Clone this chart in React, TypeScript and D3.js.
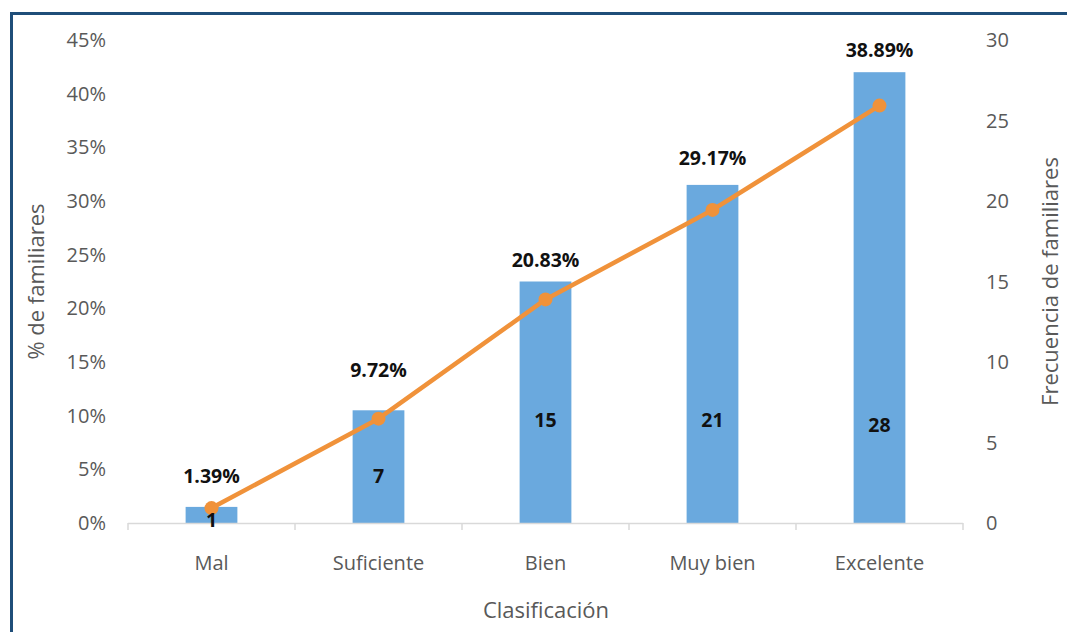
import React from "react";
import * as d3 from "d3";

const categories = ["Mal", "Suficiente", "Bien", "Muy bien", "Excelente"];
const frequencies = [1, 7, 15, 21, 28];
const percentages = [1.39, 9.72, 20.83, 29.17, 38.89];
const leftTicks = [0, 5, 10, 15, 20, 25, 30, 35, 40, 45];
const rightTicks = [0, 5, 10, 15, 20, 25, 30];

// label placement (pixel lift above bar top / frequency-unit position inside bar)
const pctLabelLift = [31, 40, 21, 27, 22];
const countLabelAt = [0.15, 2.9, 6.4, 6.4, 6.1];

const W = 1067;
const H = 632;
const left = 128;
const right = 963;
const top = 40;
const bottom = 523;
const FONT = "'Open Sans', 'Liberation Sans', sans-serif";
const GRAY = "#595959";

export default function App() {
  const x = d3.scaleBand<string>().domain(categories).range([left, right]).paddingInner(0).paddingOuter(0);
  const yL = d3.scaleLinear().domain([0, 45]).range([bottom, top]);
  const yR = d3.scaleLinear().domain([0, 30]).range([bottom, top]);
  const barW = x.bandwidth() * 0.31;
  const cx = (c: string) => (x(c) as number) + x.bandwidth() / 2;

  const line = d3
    .line<number>()
    .x((_, i) => cx(categories[i]))
    .y((d) => yL(d));

  const boundaries = [...categories.map((c) => x(c) as number), right];

  return (
    <svg width={W} height={H} style={{ position: "absolute", left: 0, top: 0, background: "#fff" }}>
      <rect x={0} y={0} width={W} height={H} fill="#fff" />
      <path d={`M11.5,${H + 5} L11.5,13.5 L${W + 5},13.5`} fill="none" stroke="#1F4E79" strokeWidth={3} />

      {/* left axis labels */}
      {leftTicks.map((t) => (
        <text key={"l" + t} x={106} y={yL(t)} dy="0.35em" textAnchor="end" fontFamily={FONT} fontSize={20} fill={GRAY}>
          {t}%
        </text>
      ))}
      {/* right axis labels */}
      {rightTicks.map((t) => (
        <text key={"r" + t} x={986} y={yR(t)} dy="0.35em" textAnchor="start" fontFamily={FONT} fontSize={20} fill={GRAY}>
          {t}
        </text>
      ))}

      {/* bars */}
      {frequencies.map((f, i) => (
        <rect
          key={"b" + i}
          x={cx(categories[i]) - barW / 2}
          y={yR(f)}
          width={barW}
          height={bottom - yR(f)}
          fill="#6AA9DE"
        />
      ))}

      {/* x axis */}
      <line x1={left} x2={right} y1={bottom + 0.5} y2={bottom + 0.5} stroke="#D9D9D9" strokeWidth={1.5} />
      {boundaries.map((b, i) => (
        <line key={"t" + i} x1={b} x2={b} y1={bottom} y2={bottom + 7} stroke="#D9D9D9" strokeWidth={1.5} />
      ))}

      {/* line */}
      <path d={line(percentages) || ""} fill="none" stroke="#F0923A" strokeWidth={4.5} strokeLinejoin="round" />
      {percentages.map((p, i) => (
        <circle key={"c" + i} cx={cx(categories[i])} cy={yL(p)} r={7} fill="#F0923A" />
      ))}

      {/* count labels inside bars */}
      {frequencies.map((f, i) => (
        <text
          key={"f" + i}
          x={cx(categories[i])}
          y={yR(countLabelAt[i])}
          dy="0.35em"
          textAnchor="middle"
          fontFamily={FONT}
          fontWeight="bold"
          fontSize={19.5}
          fill="#111"
        >
          {f}
        </text>
      ))}

      {/* percentage labels */}
      {percentages.map((p, i) => (
        <text
          key={"p" + i}
          x={cx(categories[i])}
          y={yR(frequencies[i]) - pctLabelLift[i]}
          dy="0.35em"
          textAnchor="middle"
          fontFamily={FONT}
          fontWeight="bold"
          fontSize={19.5}
          fill="#111"
        >
          {p.toFixed(2)}%
        </text>
      ))}

      {/* category labels */}
      {categories.map((c) => (
        <text key={"x" + c} x={cx(c)} y={563} dy="0.35em" textAnchor="middle" fontFamily={FONT} fontSize={20} fill={GRAY}>
          {c}
        </text>
      ))}

      {/* axis titles */}
      <text x={546} y={610} dy="0.35em" textAnchor="middle" fontFamily={FONT} fontSize={22} fill={GRAY}>
        Clasificación
      </text>
      <text
        transform={`translate(36,${(top + bottom) / 2}) rotate(-90)`}
        dy="0.35em"
        textAnchor="middle"
        fontFamily={FONT}
        fontSize={22}
        fill={GRAY}
      >
        % de familiares
      </text>
      <text
        transform={`translate(1050,${(top + bottom) / 2}) rotate(-90)`}
        dy="0.35em"
        textAnchor="middle"
        fontFamily={FONT}
        fontSize={22}
        fill={GRAY}
      >
        Frecuencia de familiares
      </text>
    </svg>
  );
}
